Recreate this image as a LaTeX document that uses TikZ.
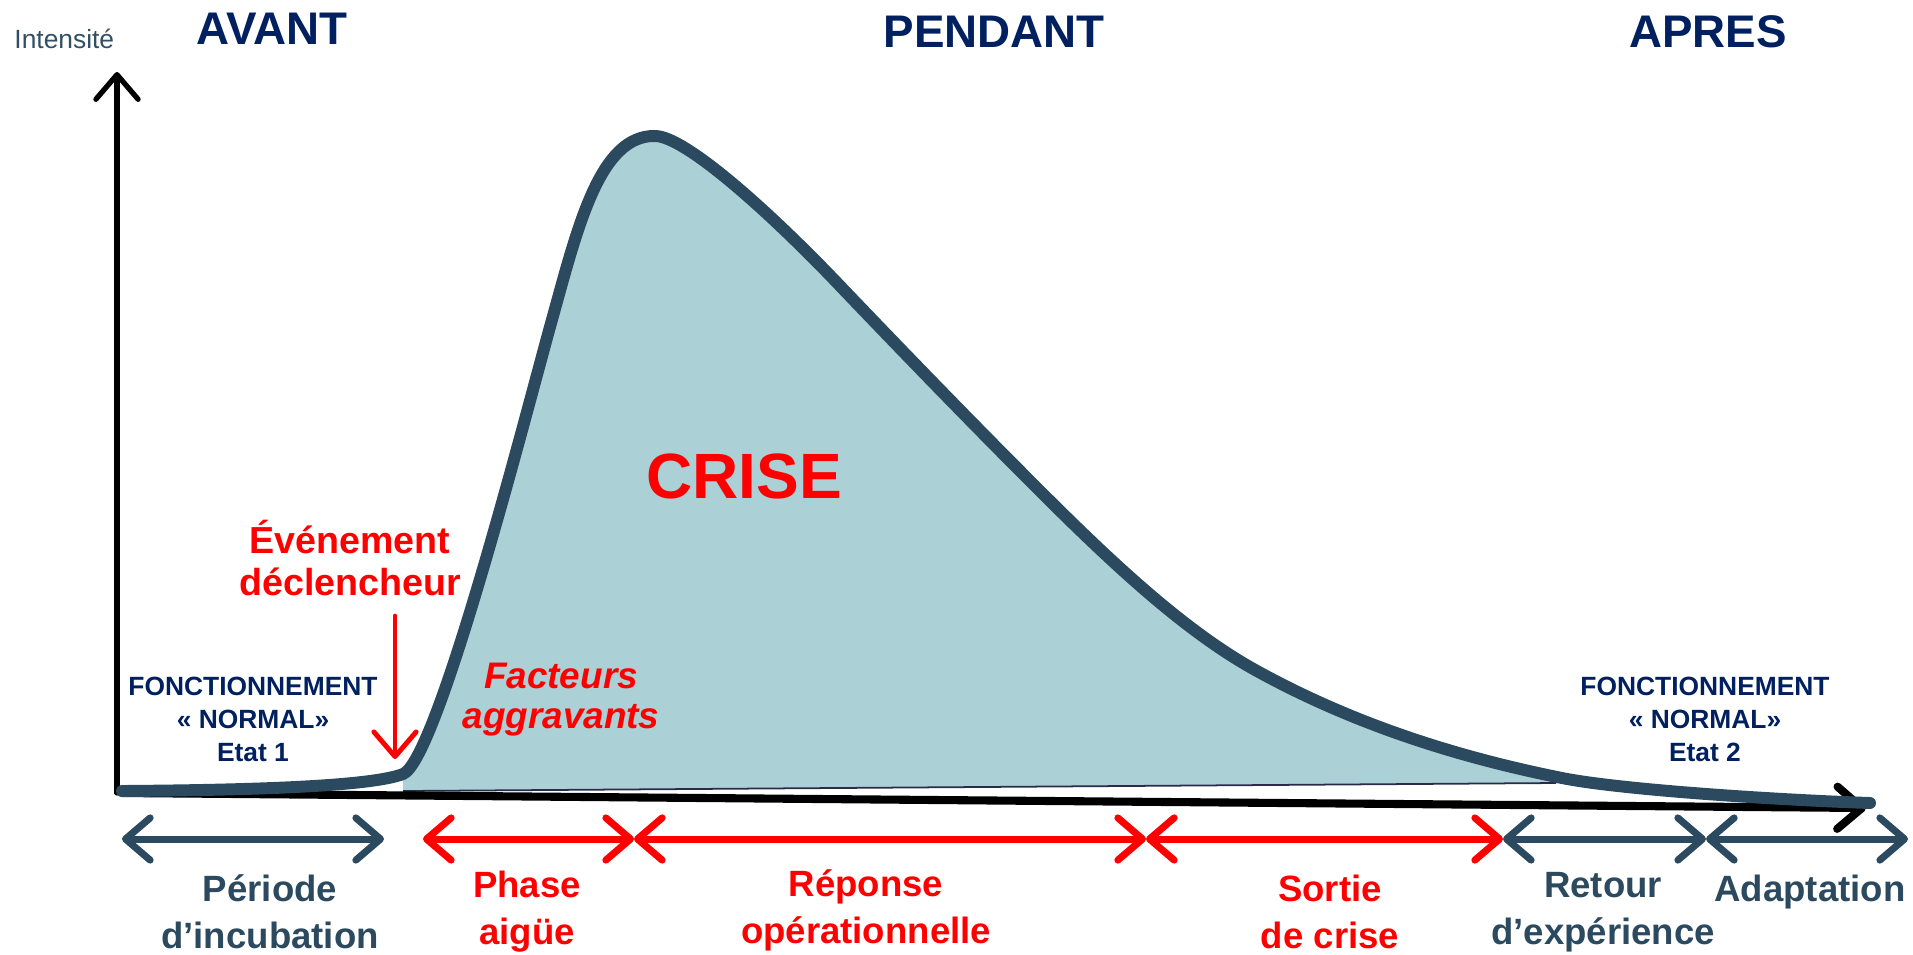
\documentclass[tikz,border=0pt]{standalone}
\usepackage{fontspec}
\setmainfont{Liberation Sans}
\usepackage{xcolor}
\usepackage{tikz}
\usetikzlibrary{arrows.meta,positioning}
\definecolor{navy}{HTML}{002060}
\definecolor{slate}{HTML}{2C4A5F}
\definecolor{lagoon}{HTML}{ABD0D5}
\definecolor{alarm}{HTML}{FF0000}
\definecolor{dusk}{HTML}{2B2A4C}
\tikzset{
  barb/.style={-{Straight Barb[length=7pt,width=12pt,round]},line cap=round},
  span/.style={{Straight Barb[length=7pt,width=12pt,round]}-{Straight Barb[length=7pt,width=12pt,round]},line width=2pt},
  spans/.style={span,color=slate},
  spanr/.style={span,color=alarm},
  era/.style={font=\fontsize{13}{15}\selectfont\bfseries,text=navy},
  etat/.style={font=\fontsize{7.5}{9.4}\selectfont\bfseries,text=navy,align=center},
  lbls/.style={font=\fontsize{10.4}{13.4}\selectfont\bfseries,text=slate,align=center},
  lblr/.style={font=\fontsize{10.4}{13.4}\selectfont\bfseries,text=alarm,align=center},
  % intensity of the crisis over time
  courbe/.style={insert path={(122,791) .. controls (260,790) and (372,786) .. (403,774)
    .. controls (438,760) and (528,405) .. (553,316)
    .. controls (578,226) and (600,135) .. (655,136)
    .. controls (685,136) and (770,212) .. (843,289)
    .. controls (908,357) and (972,423) .. (1037,488)
    .. controls (1110,561) and (1184,631) .. (1257,671)
    .. controls (1357,726) and (1462,758) .. (1562,778)
    .. controls (1622,790) and (1780,800) .. (1870,803)}},
}
\begin{document}
\begin{tikzpicture}[x=0.01cm,y=-0.01cm]
\useasboundingbox (0,0) rectangle (1913,954);
% axes
\coordinate (O) at (117,793);
\coordinate (ytip) at (117,72);
\coordinate (x0) at (122,793);
\coordinate (xtip) at (1866,808);
\coordinate (fillL) at (403,791);
\coordinate (fillR) at (1556,783);
\begin{scope}
  \clip (fillL) -- (fillR) -- (1556,0) -- (403,0) -- cycle;
  \fill[lagoon,courbe] -- cycle;
\end{scope}
\draw[dusk,line width=0.5pt] (fillL) -- (fillR);
\draw[barb,line width=1.5pt] (O) -- (ytip);
\draw[barb,line width=2.3pt] (x0) -- (xtip);
\draw[slate,line width=3.4pt,line cap=round,line join=round,courbe];
% titles
\node[anchor=west,font=\fontsize{7.5}{9}\selectfont,text=slate!90!gray] (inten) at (2,39) {Intensité};
\node[era] (avant) at (272,29) {AVANT};
\node[era] (pendant) at (994,32) {PENDANT};
\node[era] (apres) at (1708,32) {APRES};
\node[font=\fontsize{18.2}{20}\selectfont\bfseries,text=alarm] (crise) at (744,476) {CRISE};
\node[lblr,font=\fontsize{10.7}{12.2}\selectfont\bfseries] (evt) at (350,558) {Événement\\déclencheur};
\node[lblr,font=\fontsize{10.5}{11.4}\selectfont\bfseries\itshape] (fact) at (561,700) {Facteurs\\aggravants};
\node[etat] (etat1) at (253,719) {FONCTIONNEMENT\\« NORMAL»\\Etat 1};
\node[etat] (etat2) at (1705,719) {FONCTIONNEMENT\\« NORMAL»\\Etat 2};
\coordinate (declic) at (395,616);
\coordinate (seuil) at (395,759);
\draw[barb,alarm,line width=1.4pt] (declic) -- (seuil);
% phases
\coordinate (p0) at (122,839);
\coordinate (p1) at (384,839);
\coordinate (p2) at (423,839);
\coordinate (p3) at (634,839);
\coordinate (p4) at (1146,839);
\coordinate (p5) at (1503,839);
\coordinate (p6) at (1706,839);
\coordinate (p7) at (1908,839);
\draw[spans] (p0) -- (p1);
\draw[spanr] (p2) -- (p3);
\draw[spanr] (p3) -- (p4);
\draw[spanr] (p4) -- (p5);
\draw[spans] (p5) -- (p6);
\draw[spans] (p6) -- (p7);
\node[lbls] (incub) at (270,912) {Période\\d’incubation};
\node[lblr] (aigue) at (527,912) {Phase\\aigüe};
\node[lblr] (reponse) at (866,910) {Réponse\\opérationnelle};
\node[lblr] (sortie) at (1330,912) {Sortie\\de crise};
\node[lbls] (retex) at (1603,912) {Retour\\d’expérience};
\node[lbls] (adapt) at (1810,892) {Adaptation};
\end{tikzpicture}
\end{document}
